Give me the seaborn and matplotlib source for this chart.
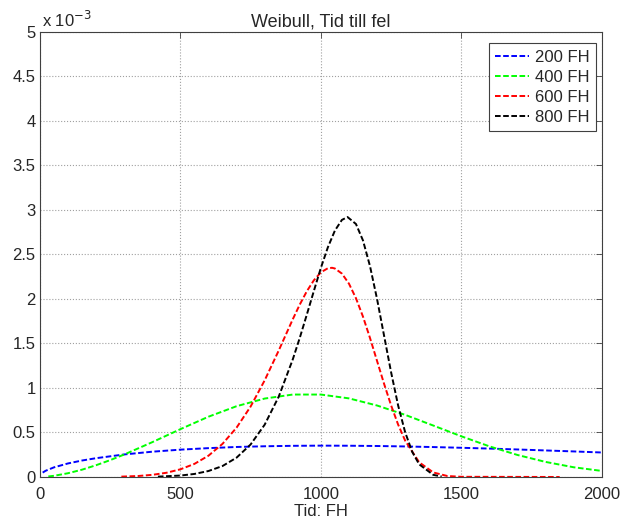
import matplotlib
matplotlib.use("Agg")
import matplotlib.pyplot as plt
from matplotlib.ticker import FuncFormatter
import seaborn as sns
import pandas as pd

# curves (y in units of 1e-3)
x_200 = [10, 20, 50, 100, 150, 200, 300, 400, 500, 600, 700, 800, 900, 1000,
         1100, 1200, 1300, 1400, 1500, 1600, 1700, 1800, 1900, 2000]
y_200 = [0.049, 0.069, 0.108, 0.152, 0.185, 0.211, 0.253, 0.284, 0.307, 0.324,
         0.337, 0.345, 0.350, 0.352, 0.351, 0.348, 0.343, 0.336, 0.328, 0.319,
         0.309, 0.298, 0.287, 0.275]

x_400 = [30, 50, 100, 150, 200, 250, 300, 400, 500, 600, 700, 800, 900, 1000,
         1100, 1200, 1300, 1400, 1500, 1600, 1700, 1800, 1900, 2000]
y_400 = [0.006, 0.013, 0.042, 0.082, 0.132, 0.189, 0.252, 0.391, 0.537, 0.677,
         0.795, 0.881, 0.926, 0.926, 0.883, 0.803, 0.698, 0.578, 0.457, 0.344,
         0.247, 0.169, 0.109, 0.068]

x_600 = [290, 350, 400, 450, 500, 550, 600, 650, 700, 750, 800, 850, 900, 925,
         950, 975, 1000, 1025, 1040, 1050, 1075, 1100, 1125, 1150, 1175, 1200,
         1225, 1250, 1275, 1300, 1350, 1400, 1450, 1500, 1850]
y_600 = [0.004, 0.011, 0.024, 0.047, 0.086, 0.147, 0.239, 0.372, 0.554, 0.791,
         1.085, 1.420, 1.771, 1.937, 2.086, 2.209, 2.299, 2.345, 2.350, 2.342,
         2.285, 2.172, 2.008, 1.801, 1.561, 1.304, 1.047, 0.805, 0.589, 0.409,
         0.165, 0.051, 0.011, 0.002, 0.0]

x_800 = [420, 500, 550, 600, 650, 700, 750, 800, 850, 900, 925, 950, 975, 1000,
         1025, 1050, 1075, 1095, 1125, 1150, 1175, 1200, 1225, 1250, 1275,
         1300, 1325, 1350, 1400, 1430]
y_800 = [0.004, 0.016, 0.034, 0.067, 0.123, 0.217, 0.365, 0.587, 0.902, 1.320,
         1.563, 1.823, 2.088, 2.348, 2.580, 2.768, 2.888, 2.920, 2.842, 2.657,
         2.368, 2.000, 1.588, 1.177, 0.804, 0.503, 0.283, 0.142, 0.024, 0.005]

labels = ['200 FH', '400 FH', '600 FH', '800 FH']
colors = ['#0000ff', '#00ff00', '#ff0000', '#000000']

frames = []
for lab, xs, ys in zip(labels, [x_200, x_400, x_600, x_800],
                       [y_200, y_400, y_600, y_800]):
    frames.append(pd.DataFrame({'t': xs, 'f': ys, 'serie': lab}))
df = pd.concat(frames, ignore_index=True)

sns.set_style("white")
plt.rcParams['font.family'] = ['Liberation Sans', 'DejaVu Sans']

fig = plt.figure(figsize=(6.23, 5.23), dpi=100)
ax = fig.add_axes([0.064, 0.088, 0.902, 0.851])

sns.lineplot(data=df, x='t', y='f', hue='serie', style='serie',
             palette=dict(zip(labels, colors)),
             dashes={lab: (2.9, 1.3) for lab in labels},
             estimator=None, sort=False, linewidth=1.4, ax=ax, clip_on=False)

ax.set_xlim(0, 2000)
ax.set_ylim(0, 5)
ax.set_xticks([0, 500, 1000, 1500, 2000])
ax.set_yticks([0, 0.5, 1, 1.5, 2, 2.5, 3, 3.5, 4, 4.5, 5])
ax.yaxis.set_major_formatter(FuncFormatter(lambda v, p: '%g' % v))
ax.grid(True, linestyle=':', color='#a0a0a0', linewidth=0.8)
ax.tick_params(direction='in', length=4, width=0.6, color='#404040',
               top=True, right=True, labelsize=12)
ax.tick_params(axis='x', pad=7)
ax.tick_params(axis='y', pad=3)
for s in ax.spines.values():
    s.set_color('#404040')
    s.set_linewidth(0.8)

ax.text(0.003, 1.004, r'x 10$^{-3}$', transform=ax.transAxes,
        ha='left', va='bottom', fontsize=12)
ax.set_title('Weibull, Tid till fel', fontsize=13, pad=4)
ax.set_xlabel('Tid: FH', fontsize=12, labelpad=2)
ax.set_ylabel('')

leg = ax.legend(loc='upper right', bbox_to_anchor=(0.9893, 0.9753),
                borderaxespad=0, fontsize=12, fancybox=False,
                framealpha=1, edgecolor='#404040', handlelength=2.0,
                borderpad=0.4, labelspacing=0.3, handletextpad=0.36)
leg.get_frame().set_linewidth(0.8)

fig.savefig('out.png', dpi=100, facecolor='white')
